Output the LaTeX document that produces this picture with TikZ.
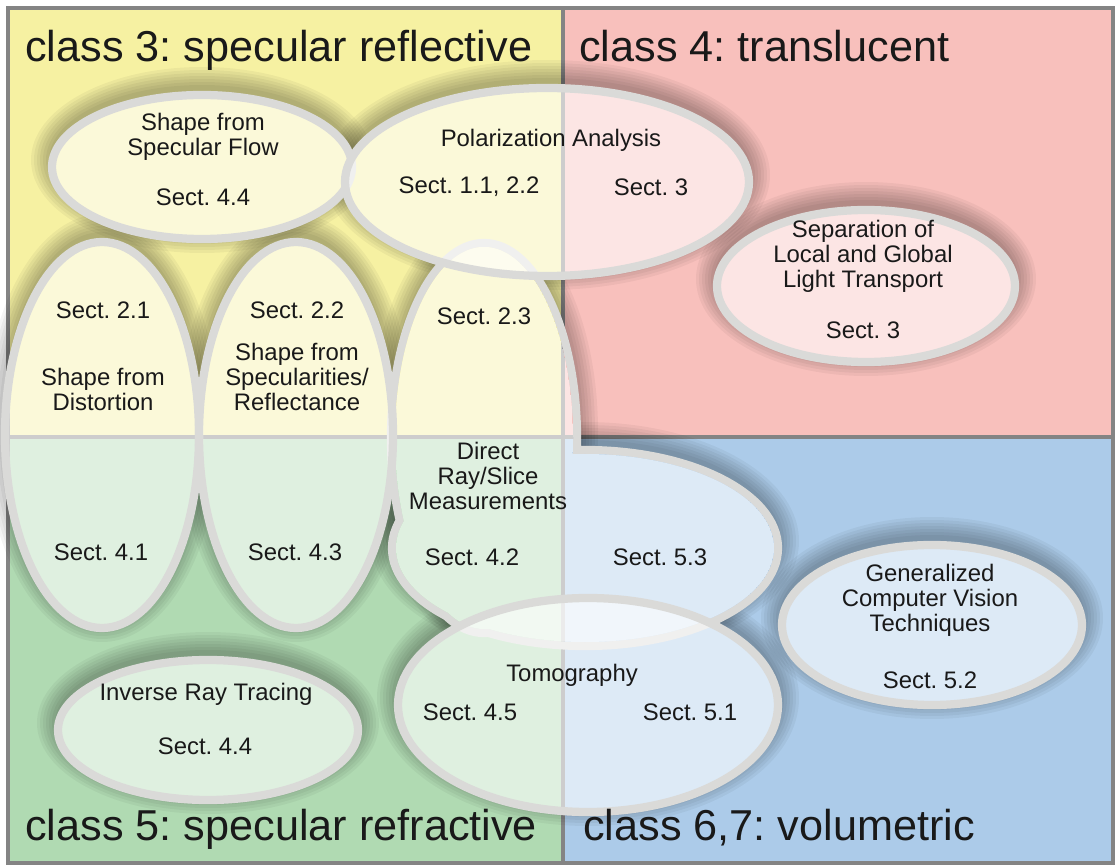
\documentclass[tikz,border=0pt]{standalone}
\usepackage{fontspec}
\setmainfont{Liberation Sans}
\frenchspacing

\definecolor{refl}{RGB}{246,241,162}
\definecolor{transl}{RGB}{248,192,188}
\definecolor{refr}{RGB}{176,218,178}
\definecolor{volum}{RGB}{172,203,233}
\definecolor{rim}{RGB}{218,218,216}
\definecolor{rule}{RGB}{132,132,132}

\tikzset{
  ring/.style={draw=rim, line width=4.7pt},
  glass/.style={fill=white, fill opacity=0.6},
  lbl/.style={font=\fontsize{13.6}{14.2}\selectfont, align=center, inner sep=0pt, text=black!90},
  cls/.style={font=\fontsize{24.6}{26}\selectfont, anchor=base west, inner sep=0pt, text=black!90},
}

% the four classes and their borders
\newcommand{\quads}{%
  \fill[refl] (8,8) rectangle (563,437);
  \fill[transl] (563,8) rectangle (1113,437);
  \fill[refr] (8,437) rectangle (563,863);
  \fill[volum] (563,437) rectangle (1113,863);
  \draw[rule, line width=2.8pt] (563,8) -- (563,863);
  \draw[rule, line width=2.8pt] (8,437) -- (1113,437);
  \draw[rule, line width=2.8pt] (8,8) rectangle (1113,863);
}

% ellipses: cx/cy/rx/ry (the last two are the Direct Ray/Slice blob)
\def\blobs{202/167/150/72, 547/182/202/94, 866/286/149/76, 102/435/97/193,
  296/435/97/193, 588/705/190/107, 208/730/150/70, 932/625/150/80,
  484/438/93/195, 585/548/193/98}
\def\plain{202/167/150/72, 547/182/202/94, 866/286/149/76, 102/435/97/193,
  296/435/97/193, 588/705/190/107, 208/730/150/70, 932/625/150/80}

\begin{document}
\begin{tikzpicture}[x=0.02cm, y=-0.02cm]
\useasboundingbox (0,0) rectangle (1117,868);
\quads

% soft shadows
\foreach \cx/\cy/\rx/\ry in \blobs {
  \foreach \k in {1,...,7}
    \fill[black, opacity=0.045] (\cx,\cy-7) ellipse [x radius=\rx+3*\k, y radius=\ry+3*\k];
}
\begin{scope}
  \clip \foreach \cx/\cy/\rx/\ry in \blobs {(\cx,\cy) ellipse [x radius=\rx, y radius=\ry]};
  \quads
\end{scope}

% Direct Ray/Slice blob, one outline
\draw[ring] (484,438) ellipse [x radius=93, y radius=195] (585,548) ellipse [x radius=193, y radius=98];
\begin{scope}
  \clip (484,438) ellipse [x radius=89, y radius=191] (585,548) ellipse [x radius=189, y radius=94];
  \quads
  \fill[glass] (484,438) ellipse [x radius=89, y radius=191] (585,548) ellipse [x radius=189, y radius=94];
\end{scope}

\foreach \cx/\cy/\rx/\ry in \plain {
  \path[glass, ring] (\cx,\cy) ellipse [x radius=\rx, y radius=\ry];
}

% class titles
\node[cls] (c3) at (25,62) {class 3: specular reflective};
\node[cls] (c4) at (579,62) {class 4: translucent};
\node[cls] (c5) at (25,840) {class 5: specular refractive};
\node[cls] (c67) at (583,840) {class 6,7: volumetric};

% texts
\node[lbl] (flow) at (203,137) {Shape from\\Specular Flow};
\node[lbl] (flows) at (203,197) {Sect. 4.4};
\node[lbl] (pol) at (551,140) {Polarization Analysis};
\node[lbl] (pola) at (469,187) {Sect. 1.1, 2.2};
\node[lbl] (polb) at (651,187) {Sect. 3};
\node[lbl] (sep) at (863,256) {Separation of\\Local and Global\\Light Transport};
\node[lbl] (seps) at (863,330) {Sect. 3};
\node[lbl] (dista) at (103,310) {Sect. 2.1};
\node[lbl] (dist) at (103,389) {Shape from\\Distortion};
\node[lbl] (distb) at (101,552) {Sect. 4.1};
\node[lbl] (speca) at (297,310) {Sect. 2.2};
\node[lbl] (spec) at (297,377) {Shape from\\Specularities/\\Reflectance};
\node[lbl] (specb) at (295,552) {Sect. 4.3};
\node[lbl] (dira) at (484,316) {Sect. 2.3};
\node[lbl] (dir) at (488,476) {Direct\\Ray/Slice\\Measurements};
\node[lbl] (dirb) at (472,557) {Sect. 4.2};
\node[lbl] (dirc) at (660,557) {Sect. 5.3};
\node[lbl] (tomo) at (572,675) {Tomography};
\node[lbl] (tomoa) at (470,712) {Sect. 4.5};
\node[lbl] (tomob) at (690,712) {Sect. 5.1};
\node[lbl] (inv) at (206,694) {Inverse Ray Tracing};
\node[lbl] (invs) at (205,746) {Sect. 4.4};
\node[lbl] (gen) at (930,600) {Generalized\\Computer Vision\\Techniques};
\node[lbl] (gens) at (930,680) {Sect. 5.2};
\end{tikzpicture}
\end{document}
